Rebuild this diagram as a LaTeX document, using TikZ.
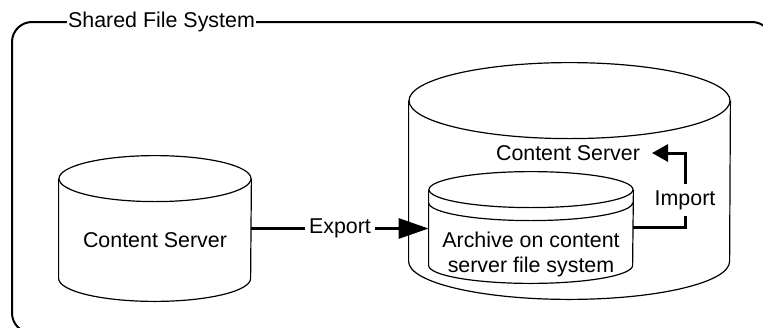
\documentclass[tikz,border=0pt]{standalone}
\usepackage{fontspec}
\setmainfont{Liberation Sans}
\usetikzlibrary{positioning, arrows.meta}

% outline of a drum around a body node: name, x radius, y radius
\newcommand{\drumoutline}[3]{%
  \draw[drumline] (#1.north west) -- (#1.south west)
    arc[start angle=180, end angle=360, x radius=#2, y radius=#3]
    -- (#1.north east);
  \draw[drumline] (#1.north) ellipse [x radius=#2, y radius=#3];
}

\begin{document}
\begin{tikzpicture}[
  x=0.5pt, y=-0.5pt,
  font=\fontsize{10.7}{12.3}\selectfont,
  every node/.style={align=center},
  drumbody/.style={rectangle, inner sep=0pt},
  drumline/.style={draw=black, line width=0.6pt},
  fsbox/.style={rectangle, rounded corners=10pt, draw=black, line width=1pt,
    inner sep=0pt},
  title/.style={fill=white, inner xsep=0.8pt, inner ysep=1pt},
  flow/.style={line width=1.5pt, draw=black},
  lbl/.style={fill=white, inner xsep=2pt, inner ysep=3pt}
]
\useasboundingbox (0,0) rectangle (763,327);
\clip (0,0) rectangle (763,327);

% ================ shared file system frame ================
\node[fsbox, minimum width=380pt, minimum height=155.5pt] (fs) at (392,177.5) {};
\node[title] (fstitle) at (161.5,22) {Shared File System};

% ================ left drum: content server ================
\node[drumbody, minimum width=96pt, minimum height=49.5pt] (srv) at (155,228.5) {};
\drumoutline{srv}{48pt}{11.5pt}
\node (srvtxt) at (155,240) {Content Server};

% ================ right drum: content server ================
\node[drumbody, minimum width=160.5pt, minimum height=80pt] (dst) at (569.5,181) {};
\drumoutline{dst}{80.25pt}{19pt}
\node (dsttxt) at (568,153) {Content Server};

% inner drum (archive), double top rim
\node[drumbody, minimum width=102pt, minimum height=37.5pt] (arch) at (531,227.5) {};
\drumoutline{arch}{51pt}{9pt}
\draw[drumline] ([yshift=-6.5pt]arch.north west)
  arc[start angle=180, end angle=360, x radius=51pt, y radius=9pt];
\node (archtxt) at (531,254.5) {Archive on content\\server file system};

% ================ flows ================
\draw[flow, -{Triangle[length=15pt, width=10pt]}] (srv.east) --
  node[lbl] (exp) {Export} (srv.east -| arch.west);

\coordinate (impcorner) at (685,153);
\coordinate (imptip) at (652,153);
\draw[flow, -{Triangle[length=8pt, width=8.5pt]}] (arch.east) -- (arch.east -| impcorner) --
  node[lbl, pos=0.37] (imp) {Import} (impcorner) -- (imptip);
\end{tikzpicture}
\end{document}
